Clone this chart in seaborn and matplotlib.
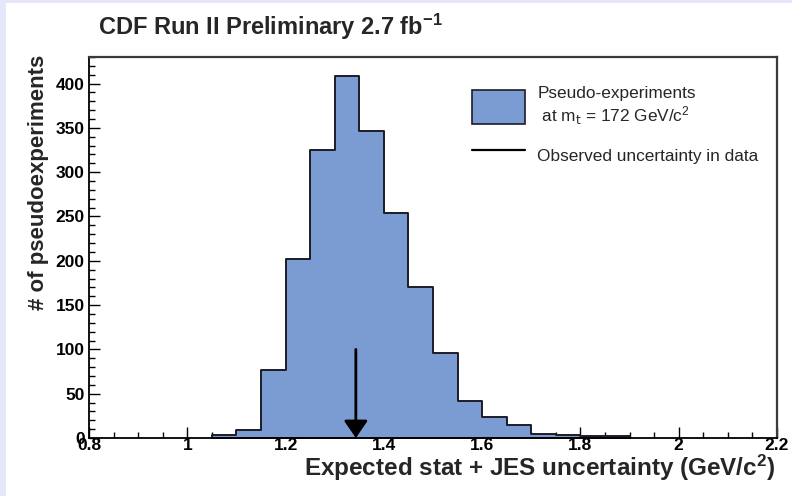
import numpy as np
import pandas as pd
import matplotlib
matplotlib.use("Agg")
import matplotlib.pyplot as plt
from matplotlib.patches import Patch, Rectangle
from matplotlib.lines import Line2D
from matplotlib.ticker import MultipleLocator, FuncFormatter
import seaborn as sns

# Pseudo-experiment histogram: lower bin edges (GeV/c^2) and counts per bin
bin_low = [1.05, 1.10, 1.15, 1.20, 1.25, 1.30, 1.35, 1.40, 1.45,
           1.50, 1.55, 1.60, 1.65, 1.70, 1.75, 1.80, 1.85]
counts = [3, 9, 77, 202, 325, 409, 347, 254, 170,
          96, 42, 24, 15, 5, 3, 2, 2]
bin_width = 0.05

# Uncertainty measured in data
observed = 1.343
arrow_top = 100

title = "CDF Run II Preliminary 2.7 fb$^{-1}$"
xlabel = "Expected stat + JES uncertainty (GeV/c$^{2}$)"
ylabel = "# of pseudoexperiments"
legend_hist = "Pseudo-experiments\n at m$_{\\rm t}$ = 172 GeV/c$^{2}$"
legend_line = "Observed uncertainty in data"

sns.set_theme(style="ticks")
plt.rcParams["font.family"] = ["Liberation Sans", "DejaVu Sans"]
plt.rcParams["mathtext.default"] = "regular"

df = pd.DataFrame({"center": np.array(bin_low) + bin_width / 2,
                   "count": counts})
edges = [float(b) for b in bin_low] + [bin_low[-1] + bin_width]

fig = plt.figure(figsize=(7.92, 4.96), dpi=100)
fig.patch.set_facecolor("#e6e6fa")
fig.patches.append(Rectangle((6 / 792, 0), 1, 1 - 3 / 496,
                             transform=fig.transFigure,
                             facecolor="white", edgecolor="none", zorder=-10))

ax = fig.add_axes([89 / 792, 58 / 496, 688 / 792, 381 / 496])
ax.set_facecolor("white")

fill_color = "#7b9bd3"
sns.histplot(data=df, x="center", weights="count", bins=edges,
             element="step", fill=True, color=fill_color, alpha=1.0,
             edgecolor="#1c1c28", linewidth=1.4, ax=ax)

ax.annotate("", xy=(observed, 0), xytext=(observed, arrow_top),
            arrowprops=dict(arrowstyle="-|>,head_length=1.05,head_width=0.72",
                            mutation_scale=10, color="black", lw=2.0,
                            shrinkA=0, shrinkB=0))

ax.set_xlim(0.8, 2.2)
ax.set_ylim(0, 430)

ax.xaxis.set_major_locator(MultipleLocator(0.2))
ax.xaxis.set_minor_locator(MultipleLocator(0.05))
ax.yaxis.set_major_locator(MultipleLocator(50))
ax.yaxis.set_minor_locator(MultipleLocator(10))
ax.xaxis.set_major_formatter(FuncFormatter(lambda v, p: f"{v:g}"))

ax.tick_params(axis="both", which="both", direction="in", top=False, right=False,
               colors="black")
ax.tick_params(axis="both", which="major", length=8, width=1.0,
               labelsize=12.5)
ax.tick_params(axis="both", which="minor", length=4, width=1.0)
ax.tick_params(axis="x", which="major", pad=0)
ax.tick_params(axis="y", which="major", pad=3)
for lab in ax.get_xticklabels() + ax.get_yticklabels():
    lab.set_fontweight("bold")

for side in ["left", "bottom"]:
    ax.spines[side].set_color("black")
    ax.spines[side].set_linewidth(1.3)
for side in ["top", "right"]:
    ax.spines[side].set_color("#3a3a3a")
    ax.spines[side].set_linewidth(1.6)

ax.set_xlabel(xlabel, fontsize=17.5, fontweight="bold", loc="right")
ax.xaxis.set_label_coords(0.998, -0.04)
ax.set_ylabel(ylabel, fontsize=16, fontweight="bold", loc="top")
ax.yaxis.set_label_coords(-0.058, 1.005)

fig.text(98 / 792, 1 - 27 / 496, title, fontsize=17, fontweight="bold",
         ha="left", va="center")

handles = [Patch(facecolor=fill_color, edgecolor="#1c1c28", linewidth=1.2),
           Line2D([0], [0], color="black", lw=1.6)]
leg = ax.legend(handles, [legend_hist, legend_line], loc="upper left",
                bbox_to_anchor=(0.557, 0.925), frameon=False, fontsize=12.4,
                handlelength=3.08, handleheight=2.6, handletextpad=0.7,
                labelspacing=0.75, borderpad=0, borderaxespad=0)

fig.savefig("out.png", dpi=100, facecolor=fig.get_facecolor())
